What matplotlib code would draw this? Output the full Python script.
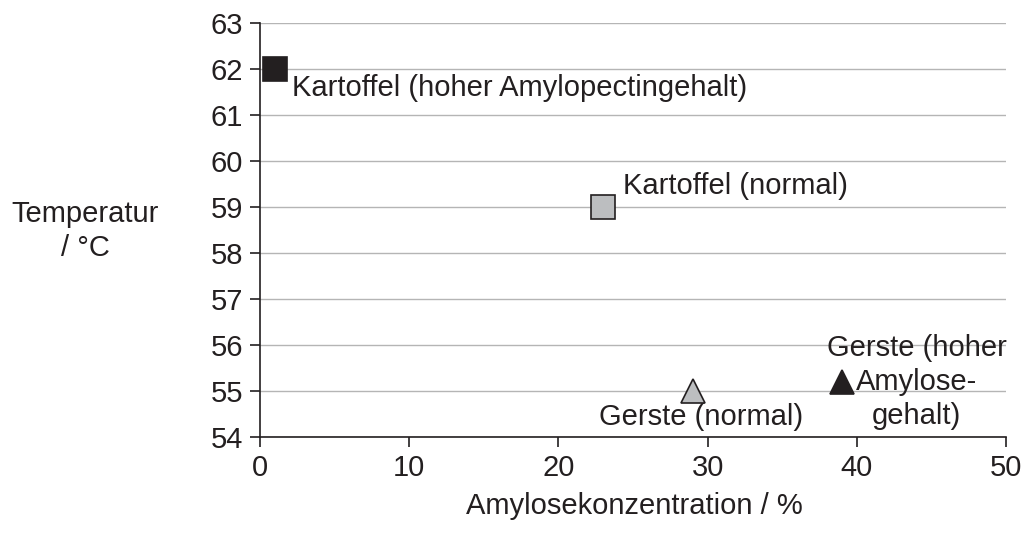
import matplotlib
matplotlib.use("Agg")
import matplotlib.pyplot as plt

plt.rcParams['font.family'] = ['Liberation Sans', 'DejaVu Sans']

# data
labels = ["Kartoffel (hoher Amylopectingehalt)", "Kartoffel (normal)",
          "Gerste (normal)", "Gerste (hoher\nAmylose-\ngehalt)"]
amylose = [1, 23, 29, 39]
temperature = [62, 59, 55, 55.2]
markers = ["s", "s", "^", "^"]
colors = ["#231f20", "#bcbec0", "#bcbec0", "#231f20"]
# label offsets in points and alignment
offsets = [(12, -14), (14, 15), (6, -19), (54, 0)]
aligns = ["left", "left", "center", "center"]

fs = 21
dark = "#231f20"

fig = plt.figure(figsize=(10.26, 5.33), dpi=100)
ax = fig.add_axes([0.2534, 0.1801, 0.7271, 0.7767])

for x, y, m, c in zip(amylose, temperature, markers, colors):
    ax.plot(x, y, marker=m, markersize=17, color=c, markeredgecolor=dark,
            markeredgewidth=1.2, linestyle="none", zorder=3, clip_on=False)

for lab, x, y, off, ha in zip(labels, amylose, temperature, offsets, aligns):
    ax.annotate(lab, (x, y), xytext=off, textcoords="offset points",
                ha=ha, va="center", fontsize=fs, color=dark,
                multialignment="center", linespacing=1.27)

ax.set_xlim(0, 50)
ax.set_ylim(54, 63)
ax.set_xticks(range(0, 51, 10))
ax.set_yticks(range(54, 64))
ax.grid(axis="y", color="#b5b5b5", linewidth=1)
ax.set_axisbelow(True)

for s in ["top", "right"]:
    ax.spines[s].set_visible(False)
for s in ["left", "bottom"]:
    ax.spines[s].set_color(dark)
    ax.spines[s].set_linewidth(1.2)
ax.tick_params(axis="both", labelsize=fs, colors=dark, length=7, width=1.2, pad=5)

fig.text(634 / 1026, 1 - 506 / 533, "Amylosekonzentration / %", fontsize=fs,
         color=dark, ha="center", va="center")
fig.text(85 / 1026, 1 - 231 / 533, "Temperatur\n/ °C", fontsize=fs, color=dark,
         ha="center", va="center", multialignment="center", linespacing=1.27)

fig.savefig("out.png", dpi=100)
